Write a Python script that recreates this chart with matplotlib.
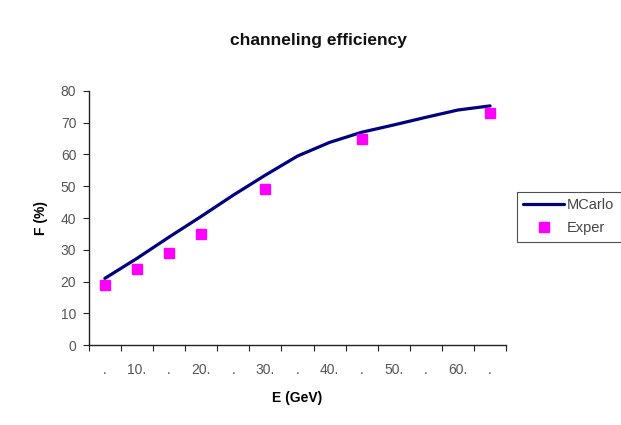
import numpy as np
import matplotlib
matplotlib.use("Agg")
import matplotlib.pyplot as plt
from matplotlib.ticker import FixedLocator

plt.rcParams["font.family"] = ["Liberation Sans", "DejaVu Sans"]

# Monte Carlo curve
mc_energy = [5, 10, 15, 20, 25, 30, 35, 40, 45, 50, 55, 60, 65]
mc_eff = [21.0, 27.3, 34.0, 40.5, 47.2, 53.5, 59.5, 63.8, 67.0, 69.3, 71.7, 74.0, 75.3]

# experimental points
exp_energy = [5, 10, 15, 20, 30, 45, 65]
exp_eff = [19, 24, 29, 35, 49, 65, 73]

# category-style x labels (Excel truncated them)
label_pos = [5, 10, 15, 20, 25, 30, 35, 40, 45, 50, 55, 60, 65]
label_txt = [".", "10.", ".", "20.", ".", "30.", ".", "40.", ".", "50.", ".", "60.", "."]
tick_pos = np.arange(2.5, 68, 5)

fig = plt.figure(figsize=(6.21, 4.25), dpi=100, facecolor="white")
ax = fig.add_axes([0.143, 0.188, 0.672, 0.598])

ax.plot(mc_energy, mc_eff, color="#000080", linewidth=2.3, label="MCarlo",
        solid_capstyle="round", solid_joinstyle="round", zorder=3)
ax.plot(exp_energy, exp_eff, linestyle="none", marker="s", markersize=7.5,
        color="#ff00ff", label="Exper", zorder=4)

ax.set_xlim(2.5, 67.5)
ax.set_ylim(0, 80)
ax.set_yticks(range(0, 81, 10))
ax.xaxis.set_major_locator(FixedLocator(tick_pos))
ax.set_xticklabels([""] * len(tick_pos))
ax.xaxis.set_minor_locator(FixedLocator(label_pos))
ax.set_xticklabels(label_txt, minor=True)

for s in ["top", "right"]:
    ax.spines[s].set_visible(False)
for s in ["left", "bottom"]:
    ax.spines[s].set_color("#222222")
    ax.spines[s].set_linewidth(1.0)

ax.tick_params(axis="both", which="major", direction="out", length=4, color="#222222",
               labelsize=10, labelcolor="#555555")
ax.tick_params(axis="y", pad=5)
ax.tick_params(axis="x", which="minor", length=0, pad=13, labelsize=10, labelcolor="#555555")

fig.text(0.512, 0.905, "channeling efficiency", ha="center", va="center",
         fontsize=12.5, fontweight="bold", color="#111111")
ax.set_xlabel("E (GeV)", fontsize=10, fontweight="bold", labelpad=10)
ax.set_ylabel("F (%)", fontsize=10, fontweight="bold", labelpad=9)

leg = ax.legend(loc="center left", bbox_to_anchor=(1.025, 0.505), frameon=True,
                fancybox=False, fontsize=10.5, handlelength=2.8, borderpad=0.45,
                labelspacing=0.6, handletextpad=0.2, borderaxespad=0)
leg.get_frame().set_edgecolor("#222222")
leg.get_frame().set_linewidth(0.8)
for t in leg.get_texts():
    t.set_color("#444444")

fig.savefig("out.png", dpi=100)
